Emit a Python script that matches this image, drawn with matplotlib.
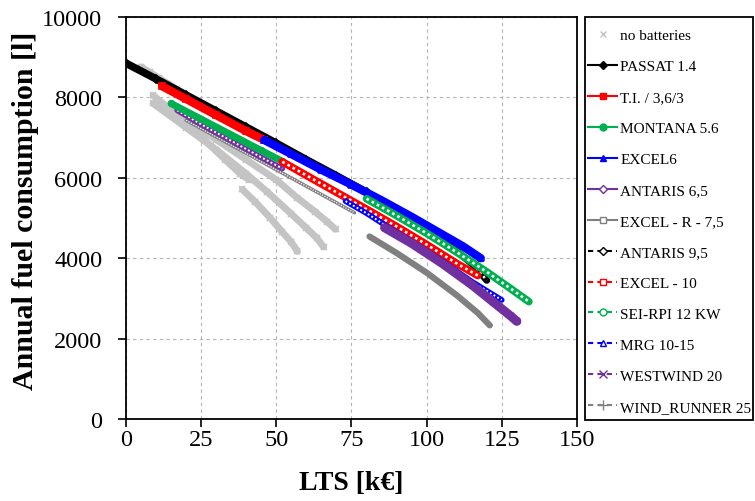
import numpy as np
import matplotlib.pyplot as plt
from matplotlib.lines import Line2D
from matplotlib.patches import Rectangle

plt.switch_backend("Agg")
plt.rcParams["font.family"] = "serif"
plt.rcParams["font.serif"] = ["Liberation Serif", "DejaVu Serif"]

# 无电池方案（浅灰 x 标记，多条曲线）
nb_a_x = [5, 8, 11, 14, 17]
nb_a_y = [8760, 8620, 8480, 8340, 8200]
nb_b_x = [9, 18, 26, 33, 38, 41]
nb_b_y = [8050, 7500, 6950, 6450, 6100, 5950]
nb_c_x = [9, 20, 30, 40, 47, 55, 60, 63.5, 65.7]
nb_c_y = [7850, 7250, 6700, 6100, 5650, 5100, 4750, 4500, 4280]
nb_d_x = [10, 20, 30, 40, 50, 57, 63, 67, 69.7]
nb_d_y = [7950, 7450, 6950, 6450, 5950, 5500, 5150, 4900, 4720]
nb_e_x = [38.7, 43, 48, 52, 55, 57]
nb_e_y = [5710, 5400, 5000, 4650, 4400, 4170]

# 各风机型号
passat_x = [0, 10, 20, 30, 40, 50, 60, 70, 80]
passat_y = [8850, 8460, 8060, 7660, 7260, 6860, 6450, 6050, 5640]
ti_x = [12, 20, 30, 40, 46]
ti_y = [8280, 7960, 7560, 7160, 6940]
montana_x = [15, 25, 35, 45, 52]
montana_y = [7850, 7460, 7070, 6680, 6410]
excel6_x = [46, 55, 65, 75, 85, 95, 105, 112, 118]
excel6_y = [6940, 6590, 6200, 5830, 5440, 5030, 4600, 4300, 4000]
antaris65_x = [17, 25, 35, 45, 52]
antaris65_y = [7680, 7330, 6920, 6510, 6230]
excelr_x = [20, 30, 40, 50, 60, 70, 76]
excelr_y = [7430, 7020, 6610, 6200, 5790, 5380, 5130]
antaris95_x = [80, 90, 100, 110, 116, 120]
antaris95_y = [5640, 5200, 4720, 4180, 3800, 3450]
excel10_x = [52, 60, 70, 80, 90, 100, 110, 117]
excel10_y = [6400, 6060, 5640, 5220, 4790, 4340, 3870, 3570]
seirpi_x = [80, 90, 100, 110, 120, 128, 134]
seirpi_y = [5480, 5060, 4620, 4150, 3660, 3240, 2920]
mrg_x = [73, 80, 86, 95, 105, 115, 125]
mrg_y = [5420, 5120, 4830, 4420, 3940, 3420, 2960]
westwind_x = [86, 95, 105, 115, 122, 128, 130]
westwind_y = [4760, 4370, 3880, 3340, 2920, 2560, 2430]
windrunner_x = [81, 90, 100, 110, 117, 121]
windrunner_y = [4540, 4130, 3640, 3080, 2640, 2330]

x_ticks = [0, 25, 50, 75, 100, 125, 150]
y_ticks = [0, 2000, 4000, 6000, 8000, 10000]

BLACK, RED, GREEN, BLUE, PURPLE, GRAY, LGRAY = (
    "black", "#ff0000", "#00b050", "#0000ff", "#7030a0", "#808080", "#c4c4c4")


def band(ax, x, y, color, lw=5.0, hollow=False, marker=None, ms=5):
    """粗线条模拟密集标记，hollow=True 时中间加白色点线表示空心标记"""
    ax.plot(x, y, color=color, lw=lw, solid_capstyle="round", zorder=3)
    if hollow:
        ax.plot(x, y, color="white", lw=lw * 0.35, linestyle=(0, (1, 1.2)), zorder=3)
    if marker:
        ax.plot(x, y, ls="none", marker=marker, color=color, ms=ms, mew=1.2, zorder=3)


fig = plt.figure(figsize=(7.55, 5.02), dpi=100)
ax = fig.add_axes([0.1669, 0.1633, 0.5973, 0.8008])

for gx, gy in [(nb_a_x, nb_a_y), (nb_b_x, nb_b_y), (nb_c_x, nb_c_y),
               (nb_d_x, nb_d_y), (nb_e_x, nb_e_y)]:
    band(ax, gx, gy, LGRAY, lw=5, marker="x", ms=4)

band(ax, passat_x, passat_y, BLACK, lw=5.5, marker="D", ms=4)
band(ax, antaris95_x, antaris95_y, BLACK, lw=5, hollow=True)
band(ax, excelr_x, excelr_y, GRAY, lw=2.5, hollow=True)
band(ax, antaris65_x, antaris65_y, PURPLE, lw=4, hollow=True)
band(ax, montana_x, montana_y, GREEN, lw=5, marker="o", ms=4)
band(ax, ti_x, ti_y, RED, lw=6, marker="s", ms=4)
band(ax, excel6_x, excel6_y, BLUE, lw=6, marker="^", ms=4)
band(ax, excel10_x, excel10_y, RED, lw=5.5, hollow=True)
band(ax, mrg_x, mrg_y, BLUE, lw=4, hollow=True)
band(ax, westwind_x, westwind_y, PURPLE, lw=6.5, marker="x", ms=5)
band(ax, windrunner_x, windrunner_y, GRAY, lw=4.5, marker="+", ms=5)
band(ax, seirpi_x, seirpi_y, GREEN, lw=5.5, hollow=True)

ax.set_xlim(0, 150)
ax.set_ylim(0, 10000)
ax.set_xticks(x_ticks)
ax.set_yticks(y_ticks)
ax.tick_params(direction="out", length=6, width=1.2, labelsize=17.5)
ax.tick_params(axis="x", pad=1.5)
ax.tick_params(axis="y", pad=11)
ax.grid(True, color="#b4b4b4", linestyle=(0, (3, 3)), linewidth=0.8)
ax.set_axisbelow(True)
for s in ax.spines.values():
    s.set_linewidth(1.3)

ax.set_xlabel("LTS [k€]", fontsize=20, fontweight="bold", labelpad=14)
ax.set_ylabel("Annual fuel consumption [l]", fontsize=21.5, fontweight="bold", labelpad=2)
ax.yaxis.label.set_y(0.52)

# 图例：实线实心 / 虚线空心
handles = [
    Line2D([], [], ls="none", marker="x", color=LGRAY, ms=4, label="no batteries"),
    Line2D([], [], color=BLACK, lw=1.5, marker="D", ms=4, label="PASSAT 1.4"),
    Line2D([], [], color=RED, lw=1.5, marker="s", ms=5, label="T.I. / 3,6/3"),
    Line2D([], [], color=GREEN, lw=1.5, marker="o", ms=5, label="MONTANA 5.6"),
    Line2D([], [], color=BLUE, lw=1.5, marker="^", ms=5, label="EXCEL6"),
    Line2D([], [], color=PURPLE, lw=1.5, marker="D", ms=4, mfc="white", label="ANTARIS 6,5"),
    Line2D([], [], color=GRAY, lw=1.5, marker="s", ms=4, mfc="white", label="EXCEL - R - 7,5"),
    Line2D([], [], color=BLACK, lw=1.5, ls=(0, (2.5, 2)), marker="D", ms=4, mfc="white", label="ANTARIS 9,5"),
    Line2D([], [], color=RED, lw=1.5, ls=(0, (2.5, 2)), marker="s", ms=5, mfc="white", label="EXCEL - 10"),
    Line2D([], [], color=GREEN, lw=1.5, ls=(0, (2.5, 2)), marker="o", ms=5, mfc="white", label="SEI-RPI 12 KW"),
    Line2D([], [], color=BLUE, lw=1.5, ls=(0, (2.5, 2)), marker="^", ms=5, mfc="white", label="MRG 10-15"),
    Line2D([], [], color=PURPLE, lw=1.5, ls=(0, (2.5, 2)), marker="x", ms=6, label="WESTWIND 20"),
    Line2D([], [], color=GRAY, lw=1.5, ls=(0, (2.5, 2)), marker="+", ms=7, label="WIND_RUNNER 25"),
]
# 图例外框单独绘制
fig.patches.append(Rectangle((0.7748, 0.1614), 0.2225, 0.8028, transform=fig.transFigure,
                             facecolor="white", edgecolor="black", linewidth=1.3, zorder=0))
leg = fig.legend(handles=handles, loc="upper left",
                 bbox_to_anchor=(588 / 755, 1 - 29.5 / 502), frameon=False,
                 fontsize=11, labelspacing=1.13, handlelength=1.9, handletextpad=0.2,
                 borderpad=0, borderaxespad=0)

plt.savefig("out.png", dpi=100)
plt.close()
